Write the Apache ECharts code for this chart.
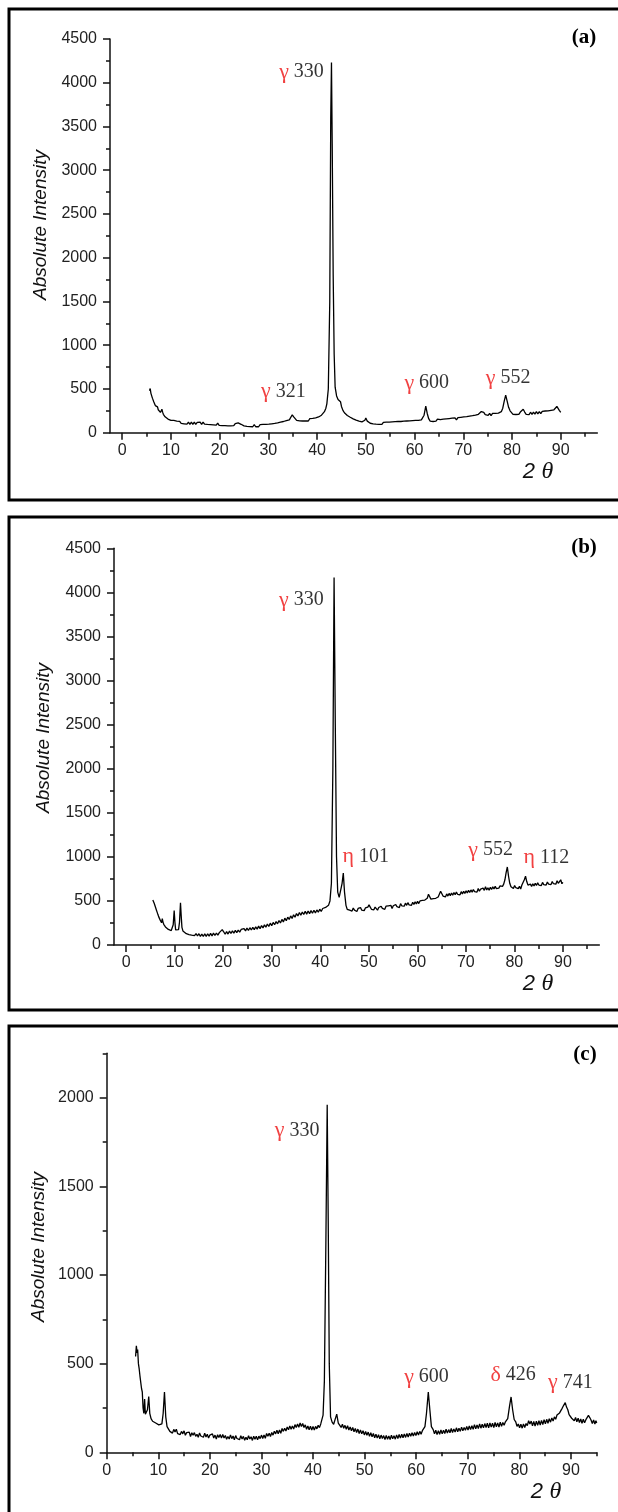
<!DOCTYPE html>
<html>
<head>
<meta charset="utf-8">
<script src="https://cdn.jsdelivr.net/npm/echarts@6/dist/echarts.min.js"></script>
<style>html,body{margin:0;padding:0;background:#fff}#c{width:618px;height:1512px}</style>
</head>
<body>
<div id="c"></div>
<script>
// ---------- DATA ----------
const xTicks = [0,10,20,30,40,50,60,70,80,90];
const xMinor = [5,15,25,35,45,55,65,75,85,95];
const yTicksAB = [0,500,1000,1500,2000,2500,3000,3500,4000,4500];
const yMinorAB = [250,750,1250,1750,2250,2750,3250,3750,4250];
const yTicksC = [0,500,1000,1500,2000];
const yMinorC = [250,750,1250,1750,2250];

const xrdA = [
[5.6,480],[5.75,505],[5.9,450],[6.05,430],[6.2,395],[6.35,380],[6.5,350],[6.65,340],[6.8,310],[6.95,318],[7.1,290],[7.25,295],[7.4,262],[7.55,268],[7.7,250],[7.85,232],[8.0,240],[8.15,268],[8.3,235],[8.45,210],[8.6,198],[8.8,182],[9.0,170],[9.2,162],[9.4,156],[9.6,150],[9.8,146],
[10.0,140],[10.3,124],[10.6,140],[10.9,118],[11.2,132],[11.5,110],[11.8,130],[12.1,106],[12.4,126],[12.7,102],[13.0,124],[13.3,98],[13.6,122],[13.9,96],[14.2,120],[14.5,96],[14.8,120],[15.1,94],[15.4,118],[15.7,96],[16.0,120],[16.3,96],[16.6,122],[16.9,98],[17.2,120],[17.5,94],[17.8,116],[18.1,92],[18.4,114],[18.7,90],[19.0,112],[19.3,86],[19.6,110],[19.9,84],[20.2,106],[20.5,82],[20.8,104],[21.1,80],[21.4,102],[21.7,78],[22.0,100],[22.3,78],[22.6,100],[22.9,80],[23.2,104],[23.5,86],[23.8,112],[24.1,118],[24.4,96],[24.7,100],[25.0,78],[25.3,96],[25.6,72],[25.9,92],[26.2,70],[26.5,90],[26.8,68],[27.1,92],[27.4,68],[27.7,90],[28.0,68],[28.3,92],[28.6,70],[28.9,94],[29.2,72],[29.5,96],[29.8,76],[30.1,98],[30.4,78],[30.7,102],[31.0,82],[31.3,106],[31.6,88],[31.9,112],[32.2,94],[32.5,120],[32.8,102],[33.1,128],[33.4,112],[33.7,138],[34.0,126],[34.3,146],[34.6,160],[34.9,205],[35.2,180],[35.5,164],[35.8,140],[36.1,158],[36.4,136],[36.7,156],[37.0,134],[37.3,156],[37.6,136],[37.9,158],[38.2,134],[38.5,160],[38.8,140],[39.1,164],[39.4,148],[39.7,170],[40.0,158],[40.3,180],[40.6,178],[40.9,200],[41.2,212],[41.5,240],[41.8,280],
[42.0,330],[42.3,500],[42.6,1500],[42.8,3600],[42.95,4230],[43.1,3300],[43.3,1800],[43.5,900],[43.7,520],[44.0,420],[44.3,380],[44.6,362],[44.8,355],[45.0,300],
[45.3,255],[45.6,228],[45.9,214],[46.2,196],[46.5,198],[46.8,176],[47.1,180],[47.4,158],[47.7,166],[48.0,144],[48.3,154],[48.6,132],[48.9,146],[49.2,124],[49.5,140],[49.8,142],[50.0,168],[50.3,132],[50.6,128],[50.9,108],[51.2,126],[51.5,102],[51.8,122],[52.1,98],[52.4,120],[52.7,96],[53.0,118],[53.3,94],[53.6,118],[53.9,96],[54.2,120],[54.5,98],[54.8,122],[55.1,100],[55.4,124],[55.7,102],[56.0,126],[56.3,104],[56.6,128],[56.9,106],[57.2,128],[57.5,108],[57.8,132],[58.1,110],[58.4,134],[58.7,112],[59.0,136],[59.3,114],[59.6,138],[59.9,116],[60.2,140],[60.5,118],[60.8,142],[61.1,124],[61.4,146],[61.7,155],[61.95,200],[62.3,305],[62.6,220],[62.9,160],[63.2,132],[63.5,148],[63.8,128],[64.1,146],[64.4,132],[64.7,156],[65.0,172],[65.3,150],[65.6,132],[65.9,154],[66.2,134],[66.5,158],[66.8,138],[67.1,162],[67.4,140],[67.7,166],[68.0,144],[68.3,170],[68.6,146],[68.9,172],[69.2,150],[69.5,176],[69.8,154],[70.1,180],[70.4,158],[70.7,184],[71.0,162],[71.3,190],[71.6,168],[71.9,194],[72.2,174],[72.5,200],[72.8,190],[73.1,210],[73.4,222],[73.7,242],[73.95,255],[74.2,232],[74.5,206],[74.8,220],[75.1,198],[75.4,222],[75.7,196],[76.0,220],[76.3,198],[76.6,222],[76.9,200],[77.2,224],[77.5,212],[77.8,240],[78.1,280],[78.4,360],[78.7,430],[79.0,360],[79.3,290],[79.6,250],[79.9,232],[80.2,210],[80.5,232],[80.8,208],[81.1,230],[81.4,210],[81.7,236],[82.0,238],[82.3,268],[82.6,236],[82.9,210],[83.2,232],[83.5,206],[83.8,234],[84.1,210],[84.4,236],[84.7,212],[85.0,240],[85.3,216],[85.6,242],[85.9,218],[86.2,244],[86.5,222],[86.8,248],[87.1,226],[87.4,250],[87.7,230],[88.0,256],[88.3,240],[88.6,262],[88.9,272],[89.2,300],[89.5,282],[89.7,255],[89.85,262],[90.0,232]
];

const xrdB = [
[5.5,510],[5.65,490],[5.8,470],[5.95,445],[6.1,420],[6.25,395],[6.4,370],[6.55,345],[6.7,322],[6.85,300],[7.0,285],[7.15,268],[7.3,252],[7.45,300],[7.6,260],[7.75,235],[7.9,218],[8.1,205],[8.3,192],[8.5,185],[8.7,176],[8.9,170],[9.1,166],[9.3,164],[9.5,172],[9.7,230],[9.9,390],[10.05,260],[10.2,172],[10.4,162],[10.6,158],[10.8,175],[11.0,260],[11.2,480],[11.35,330],[11.5,200],[11.7,160],[11.9,148],
[12.1,150],[12.4,128],[12.7,146],[12.95,118],[13.2,140],[13.5,112],[13.8,134],[14.1,106],[14.4,130],[14.7,102],[15.0,128],[15.3,98],[15.6,124],[15.9,96],[16.2,126],[16.5,98],[16.8,128],[17.1,100],[17.4,132],[17.7,104],[18.0,134],[18.3,108],[18.6,136],[18.9,112],[19.2,140],[19.5,118],[19.8,175],[20.1,150],[20.4,122],[20.7,152],[21.0,124],[21.3,158],[21.6,130],[21.9,160],[22.2,134],[22.5,166],[22.8,140],[23.1,170],[23.4,146],[23.7,176],[24.0,154],[24.3,186],[24.6,160],[24.9,192],[25.2,164],[25.5,196],[25.8,170],[26.1,200],[26.4,174],[26.7,206],[27.0,180],[27.3,214],[27.6,186],[27.9,220],[28.2,194],[28.5,228],[28.8,202],[29.1,238],[29.4,210],[29.7,248],[30.0,220],[30.3,256],[30.6,230],[30.9,266],[31.2,240],[31.5,278],[31.8,250],[32.1,290],[32.4,262],[32.7,304],[33.0,276],[33.3,316],[33.6,290],[33.9,330],[34.2,302],[34.5,342],[34.8,316],[35.1,356],[35.4,330],[35.7,368],[36.0,338],[36.3,374],[36.6,346],[36.9,382],[37.2,350],[37.5,386],[37.8,356],[38.1,390],[38.4,360],[38.7,394],[39.0,364],[39.3,398],[39.6,372],[39.9,406],[40.2,380],[40.5,414],[40.8,396],[41.1,426],[41.4,420],[41.7,450],[41.85,462],
[42.0,500],[42.3,700],[42.6,2000],[42.85,4170],[43.1,2500],[43.35,1000],[43.6,600],[43.9,540],[44.2,560],[44.5,700],[44.75,815],[45.0,600],
[45.3,450],[45.55,405],[45.8,425],[46.05,395],[46.3,410],[46.55,385],[46.8,420],[47.05,395],[47.3,405],[47.55,380],[47.8,415],[48.05,400],[48.3,425],[48.55,395],[48.8,410],[49.05,390],[49.3,420],[49.55,405],[49.8,430],[50.05,455],[50.3,430],[50.55,405],[50.8,425],[51.05,400],[51.3,430],[51.55,410],[51.8,395],[52.05,425],[52.3,410],[52.55,440],[52.8,415],[53.05,430],[53.3,405],[53.55,440],[53.8,420],[54.05,445],[54.3,425],[54.55,450],[54.8,415],[55.05,445],[55.3,430],[55.55,460],[55.8,435],[56.05,455],[56.3,425],[56.55,470],[56.8,445],[57.05,465],[57.3,440],[57.55,475],[57.8,450],[58.05,480],[58.3,455],[58.55,470],[58.8,450],[59.05,485],[59.3,460],[59.55,490],[59.8,465],[60.05,495],[60.3,470],[60.55,500],[60.8,480],[61.05,505],[61.3,485],[61.55,510],[61.8,500],[62.05,530],[62.3,575],[62.55,560],[62.8,520],[63.05,500],[63.3,525],[63.55,505],[63.8,530],[64.05,515],[64.3,545],[64.55,560],[64.8,610],[65.05,590],[65.3,555],[65.55,575],[65.8,545],[66.05,580],[66.3,555],[66.55,585],[66.8,560],[67.05,590],[67.3,565],[67.55,595],[67.8,570],[68.05,600],[68.3,575],[68.55,595],[68.8,570],[69.05,605],[69.3,580],[69.55,610],[69.8,585],[70.05,615],[70.3,590],[70.55,620],[70.8,595],[71.05,625],[71.3,600],[71.55,630],[71.8,605],[72.05,625],[72.3,600],[72.55,640],[72.8,610],[73.05,635],[73.3,615],[73.55,645],[73.8,620],[74.05,660],[74.3,625],[74.55,650],[74.8,620],[75.05,655],[75.3,630],[75.55,660],[75.8,635],[76.05,665],[76.3,640],[76.55,660],[76.8,645],[77.05,670],[77.3,650],[77.55,665],[77.8,690],[78.05,740],[78.3,820],[78.55,885],[78.8,780],[79.05,700],[79.3,660],[79.55,680],[79.8,640],[80.05,675],[80.3,650],[80.55,670],[80.8,640],[81.05,665],[81.3,635],[81.55,680],[81.8,700],[82.05,740],[82.3,780],[82.55,720],[82.8,680],[83.05,660],[83.3,690],[83.55,665],[83.8,695],[84.05,670],[84.3,700],[84.55,675],[84.8,705],[85.05,680],[85.3,700],[85.55,675],[85.8,710],[86.05,685],[86.3,705],[86.55,680],[86.8,715],[87.05,690],[87.3,710],[87.55,685],[87.8,720],[88.05,695],[88.3,715],[88.55,690],[88.8,730],[89.05,700],[89.3,720],[89.55,740],[89.8,695],[90.0,710]
];

const xrdC = [
[5.6,540],[5.75,600],[5.9,560],[6.0,580],[6.15,500],[6.3,470],[6.45,430],[6.6,420],[6.75,360],[6.9,340],[7.05,250],[7.2,220],[7.35,300],[7.5,215],[7.7,205],[7.9,240],[8.15,315],[8.35,220],[8.6,190],[8.9,175],[9.2,185],[9.5,165],[9.8,172],[10.1,155],[10.4,165],[10.7,160],[10.95,220],[11.2,340],[11.45,200],[11.7,145],
[12.0,140],[12.25,118],[12.5,128],[12.75,108],[13.0,129],[13.25,115],[13.5,130],[13.75,105],[14.0,115],[14.25,100],[14.5,118],[14.75,104],[15.0,121],[15.25,96],[15.5,111],[15.75,103],[16.0,114],[16.25,89],[16.5,110],[16.75,96],[17.0,111],[17.25,90],[17.5,102],[17.75,85],[18.0,109],[18.25,92],[18.5,102],[18.75,85],[19.0,108],[19.25,86],[19.5,102],[19.75,80],[20.0,97],[20.25,88],[20.5,104],[20.75,81],[21.0,97],[21.25,75],[21.5,99],[21.75,83],[22.0,100],[22.25,80],[22.5,101],[22.75,81],[23.0,95],[23.25,74],[23.5,89],[23.75,75],[24.0,98],[24.25,77],[24.5,92],[24.75,70],[25.0,94],[25.25,78],[25.5,88],[25.75,71],[26.0,93],[26.25,75],[26.5,90],[26.75,68],[27.0,85],[27.25,71],[27.5,93],[27.75,75],[28.0,88],[28.25,67],[28.5,91],[28.75,73],[29.0,90],[29.25,70],[29.5,91],[29.75,77],[30.0,97],[30.25,78],[30.5,97],[30.75,79],[31.0,106],[31.25,90],[31.5,107],[31.75,89],[32.0,112],[32.25,97],[32.5,119],[32.75,104],[33.0,124],[33.25,105],[33.5,126],[33.75,107],[34.0,134],[34.25,118],[34.5,136],[34.75,120],[35.0,143],[35.25,127],[35.5,149],[35.75,130],[36.0,149],[36.25,131],[36.5,156],[36.75,140],[37.0,159],[37.25,141],[37.5,165],[37.75,145],[38.0,162],[38.25,140],[38.5,155],[38.75,130],[39.0,148],[39.25,127],[39.5,147],[39.75,126],[40.0,146],[40.25,126],[40.5,146],[40.75,132],[41.0,152],[41.25,139],[41.5,160],[41.75,170],
[41.95,210],[42.2,400],[42.5,1200],[42.75,1960],[42.95,1300],[43.15,500],[43.4,200],[43.7,170],[44.0,158],[44.3,150],[44.6,215],[44.9,165],
[45.2,168],[45.45,140],[45.7,158],[45.95,136],[46.2,152],[46.45,130],[46.7,150],[46.95,126],[47.2,143],[47.45,122],[47.7,140],[47.95,116],[48.2,134],[48.45,112],[48.7,131],[48.95,106],[49.2,126],[49.45,104],[49.7,122],[49.95,98],[50.2,117],[50.45,96],[50.7,114],[50.95,90],[51.2,110],[51.45,88],[51.7,106],[51.95,82],[52.2,102],[52.45,80],[52.7,99],[52.95,76],[53.2,97],[53.45,78],[53.7,94],[53.95,72],[54.2,95],[54.45,74],[54.7,92],[54.95,72],[55.2,96],[55.45,76],[55.7,94],[55.95,74],[56.2,98],[56.45,78],[56.7,100],[56.95,80],[57.2,102],[57.45,82],[57.7,104],[57.95,84],[58.2,106],[58.45,86],[58.7,108],[58.95,90],[59.2,110],[59.45,92],[59.7,112],[59.95,94],[60.2,116],[60.45,98],[60.7,118],[60.95,102],[61.2,122],[61.45,118],[61.7,145],
[62.0,220],[62.35,340],[62.65,240],[62.95,145],
[63.3,128],[63.55,104],[63.8,124],[64.05,100],[64.3,122],[64.55,102],[64.8,126],[65.05,104],[65.3,124],[65.55,106],[65.8,130],[66.05,108],[66.3,128],[66.55,110],[66.8,134],[67.05,112],[67.3,132],[67.55,114],[67.8,138],[68.05,116],[68.3,136],[68.55,118],[68.8,142],[69.05,122],[69.3,140],[69.55,124],[69.8,146],[70.05,126],[70.3,148],[70.55,128],[70.8,150],[71.05,130],[71.3,156],[71.55,132],[71.8,154],[72.05,134],[72.3,160],[72.55,136],[72.8,158],[73.05,138],[73.3,162],[73.55,140],[73.8,164],[74.05,138],[74.3,166],[74.55,142],[74.8,164],[75.05,140],[75.3,168],[75.55,144],[75.8,166],[76.05,142],[76.3,170],[76.55,146],[76.8,168],[77.05,152],[77.3,172],[77.55,170],[77.75,190],
[78.1,260],[78.4,312],[78.7,240],[79.0,185],
[79.3,172],[79.55,146],[79.8,160],[80.05,138],[80.3,158],[80.55,136],[80.8,160],[81.05,140],[81.3,162],[81.55,150],[81.8,178],[82.05,160],[82.3,176],[82.55,150],[82.8,174],[83.05,148],[83.3,176],[83.55,152],[83.8,178],[84.05,154],[84.3,180],[84.55,156],[84.8,184],[85.05,160],[85.3,186],[85.55,164],[85.8,190],[86.05,170],[86.3,194],[86.55,176],[86.8,200],[87.05,186],[87.3,210],[87.55,202],[87.8,222],[88.05,230],[88.3,248],[88.6,265],[88.9,280],[89.15,255],[89.4,240],[89.65,212],[89.9,218],[90.15,192],[90.4,200],[90.65,178],[90.9,196],[91.15,172],[91.4,192],[91.65,168],[91.9,188],[92.15,164],[92.4,186],[92.65,166],[92.9,184],[93.15,176],[93.4,208],[93.65,196],[93.9,182],[94.15,162],[94.4,182],[94.65,160],[94.85,178],[95.0,165]
];

// peak annotations: [x, y, greek, index]
const annotA = [[36.8,4126,'γ','330'],[33.1,469,'γ','321'],[62.5,568,'γ','600'],[79.2,625,'γ','552']];
const annotB = [[36.1,3914,'γ','330'],[49.4,1002,'η','101'],[75.1,1078,'γ','552'],[86.6,995,'η','112']];
const annotC = [[36.9,1814,'γ','330'],[62.0,426,'γ','600'],[78.8,436,'δ','426'],[89.9,393,'γ','741']];

const panelLabels = ['(a)','(b)','(c)'];
const yName = 'Absolute Intensity';

// ---------- LAYOUT ----------
const grids = [
  {left:110, top:39, width:487.3, height:393.7},
  {left:114, top:548.3, width:485.3, height:396.7},
  {left:106.7, top:1053.3, width:490, height:399}
];
const xRanges = [[-2.5,97.5],[-2.5,97.5],[0,95]];
const yRanges = [[0,4500],[0,4500],[0,2250]];
const yMaj = [yTicksAB, yTicksAB, yTicksC];
const yMin = [yMinorAB, yMinorAB, yMinorC];
const curves = [xrdA, xrdB, xrdC];
const annots = [annotA, annotB, annotC];

const SANS = 'Liberation Sans, Arial, sans-serif';
const SERIF = 'Liberation Serif, Times New Roman, serif';
const plain = v => String(v);

const xAxis = [], yAxis = [], series = [];
grids.forEach((g, i) => {
  g.containLabel = false;
  xAxis.push({
    type:'value', gridIndex:i, position:'bottom', min:xRanges[i][0], max:xRanges[i][1],
    axisLine:{show:true, onZero:false, lineStyle:{color:'#111', width:1.5}},
    axisTick:{show:true, customValues:xTicks, length:7, lineStyle:{color:'#111', width:1.5}},
    axisLabel:{show:true, customValues:xTicks, formatter:plain, margin:10, fontSize:16, color:'#222', fontFamily:SANS},
    splitLine:{show:false}
  });
  xAxis.push({
    type:'value', gridIndex:i, position:'bottom', min:xRanges[i][0], max:xRanges[i][1],
    axisLine:{show:false, onZero:false},
    axisTick:{show:true, customValues:xMinor, length:4, lineStyle:{color:'#111', width:1.5}},
    axisLabel:{show:false}, splitLine:{show:false}
  });
  yAxis.push({
    type:'value', gridIndex:i, position:'left', min:yRanges[i][0], max:yRanges[i][1],
    axisLine:{show:true, onZero:false, lineStyle:{color:'#111', width:1.5}},
    axisTick:{show:true, customValues:yMaj[i], length:7, lineStyle:{color:'#111', width:1.5}},
    axisLabel:{show:true, customValues:yMaj[i], formatter:plain, margin:13, fontSize:16, color:'#222', fontFamily:SANS},
    splitLine:{show:false}
  });
  yAxis.push({
    type:'value', gridIndex:i, position:'left', min:yRanges[i][0], max:yRanges[i][1],
    axisLine:{show:false, onZero:false},
    axisTick:{show:true, customValues:yMin[i], length:4, lineStyle:{color:'#111', width:1.5}},
    axisLabel:{show:false}, splitLine:{show:false}
  });
  series.push({
    type:'line', xAxisIndex:2*i, yAxisIndex:2*i, data:curves[i], showSymbol:false,
    lineStyle:{color:'#000', width:1.3}, silent:true, z:3
  });
  series.push({
    type:'scatter', xAxisIndex:2*i, yAxisIndex:2*i, symbolSize:1, itemStyle:{color:'rgba(0,0,0,0)'}, silent:true,
    data:annots[i].map(a => ({value:[a[0], a[1]], greek:a[2], idx:a[3]})),
    label:{show:true, position:'inside', textBorderWidth:0,
      formatter: p => '{g|' + p.data.greek + '}{n| ' + p.data.idx + '}',
      rich:{
        g:{color:'#ee1111', fontSize:22, fontFamily:SERIF, textBorderWidth:0},
        n:{color:'#000', fontSize:20, fontFamily:SERIF, textBorderWidth:0}
      }
    },
    labelLayout:{hideOverlap:false}
  });
});

const borders = [
  {x:9, y:9, w:640, h:491},
  {x:9, y:517, w:640, h:493},
  {x:9, y:1026, w:640, h:600}
];
const labelPos = [[584,38],[584,548],[585,1055]];
const yNamePos = [[40.4,225],[43.4,738],[39,1247]];
const xNamePos = [[538,472],[538,984],[546,1492]];

const graphic = [];
borders.forEach(b => graphic.push({type:'rect', shape:{x:b.x, y:b.y, width:b.w, height:b.h},
  style:{fill:'none', stroke:'#000', lineWidth:3}, silent:true, z:10}));
labelPos.forEach((p, i) => graphic.push({type:'text', x:p[0], y:p[1],
  style:{text:panelLabels[i], font:'bold 21px ' + SERIF, fill:'#000', align:'center', verticalAlign:'middle'}}));
yNamePos.forEach(p => graphic.push({type:'text', x:p[0], y:p[1], rotation:Math.PI/2,
  style:{text:yName, font:'italic 19px ' + SANS, fill:'#111', align:'center', verticalAlign:'middle'}}));
xNamePos.forEach(p => graphic.push({type:'text', x:p[0], y:p[1],
  style:{text:'{a|2}  {b|θ}', align:'center', verticalAlign:'middle',
    rich:{a:{font:'italic 22px ' + SANS, fill:'#111'}, b:{font:'italic 24px ' + SERIF, fill:'#111'}}}}));

const chart = echarts.init(document.getElementById('c'), null, {renderer:'canvas'});
chart.setOption({
  animation:false,
  backgroundColor:'#fff',
  grid:grids, xAxis:xAxis, yAxis:yAxis, series:series, graphic:graphic
});
</script>
</body>
</html>
